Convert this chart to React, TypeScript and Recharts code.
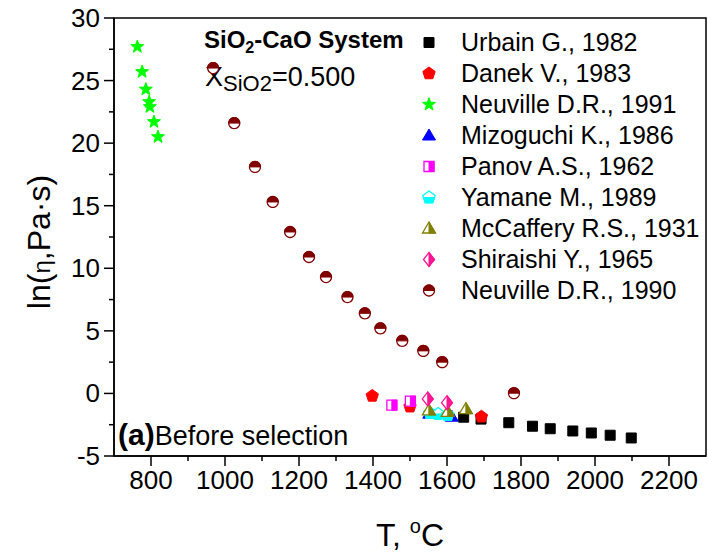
import React from "react";
import { ScatterChart, Scatter, XAxis, YAxis, ReferenceArea, Legend, Customized, Label } from "recharts";

const FONT = "'Liberation Sans', Arial, Helvetica, sans-serif";

// axis ticks (minor + major); labels only on majors
const X_TICKS = [800, 900, 1000, 1100, 1200, 1300, 1400, 1500, 1600, 1700, 1800, 1900, 2000, 2100, 2200];
const X_LABELS = [800, 1000, 1200, 1400, 1600, 1800, 2000, 2200];
const Y_TICKS = [-5, -2.5, 0, 2.5, 5, 7.5, 10, 12.5, 15, 17.5, 20, 22.5, 25, 27.5, 30];
const Y_LABELS = [-5, 0, 5, 10, 15, 20, 25, 30];

// T (°C) / ln(eta)
const urbainT = [1645, 1692, 1767, 1831, 1879, 1940, 1990, 2041, 2098];
const urbainLn = [-1.9, -2.05, -2.34, -2.62, -2.82, -3.0, -3.16, -3.34, -3.56];
const danekT = [1398, 1500, 1693];
const danekLn = [-0.2, -1.06, -1.86];
const neuville91T = [763, 776, 786, 795, 797, 808, 819];
const neuville91Ln = [27.7, 25.7, 24.3, 23.3, 22.9, 21.7, 20.5];
const mizoguchiT = [1552, 1613];
const mizoguchiLn = [-1.62, -1.86];
const panovT = [1451, 1501];
const panovLn = [-0.94, -0.62];
const yamaneT = [1554, 1576, 1602];
const yamaneLn = [-1.58, -1.64, -1.72];
const mccafferyT = [1551, 1602, 1651];
const mccafferyLn = [-1.36, -1.48, -1.26];
const shiraishiT = [1548, 1600];
const shiraishiLn = [-0.44, -0.74];
const neuville90T = [968, 1025, 1081, 1129, 1176, 1227, 1273, 1331, 1378, 1420, 1479, 1536, 1587, 1781];
const neuville90Ln = [26.0, 21.6, 18.1, 15.3, 12.9, 10.9, 9.3, 7.7, 6.4, 5.2, 4.2, 3.4, 2.5, 0.02];

const pts = (t: number[], v: number[]) => t.map((x, i) => ({ t: x, v: v[i] }));

type Shape = "square" | "pentagon" | "star" | "triangle" | "diamond" | "circle";
type Fill = "full" | "right" | "bottom" | "top";

const SERIES: { name: string; data: { t: number; v: number }[]; color: string; shape: Shape; fill: Fill }[] = [
  { name: "Urbain G., 1982", data: pts(urbainT, urbainLn), color: "#000000", shape: "square", fill: "full" },
  { name: "Danek V., 1983", data: pts(danekT, danekLn), color: "#FF0000", shape: "pentagon", fill: "full" },
  { name: "Neuville D.R., 1991", data: pts(neuville91T, neuville91Ln), color: "#00FF00", shape: "star", fill: "full" },
  { name: "Mizoguchi K., 1986", data: pts(mizoguchiT, mizoguchiLn), color: "#0000FF", shape: "triangle", fill: "full" },
  { name: "Panov A.S., 1962", data: pts(panovT, panovLn), color: "#FF00FF", shape: "square", fill: "right" },
  { name: "Yamane M., 1989", data: pts(yamaneT, yamaneLn), color: "#00FFFF", shape: "pentagon", fill: "bottom" },
  { name: "McCaffery R.S., 1931", data: pts(mccafferyT, mccafferyLn), color: "#808000", shape: "triangle", fill: "right" },
  { name: "Shiraishi Y., 1965", data: pts(shiraishiT, shiraishiLn), color: "#FF1493", shape: "diamond", fill: "right" },
  { name: "Neuville D.R., 1990", data: pts(neuville90T, neuville90Ln), color: "#800000", shape: "circle", fill: "top" },
];

type P = [number, number];

function outline(shape: Shape, cx: number, cy: number): P[] {
  const poly = (n: number, r: number, rot = -90): P[] =>
    Array.from({ length: n }, (_, k) => {
      const a = ((rot + (360 / n) * k) * Math.PI) / 180;
      return [cx + r * Math.cos(a), cy + r * Math.sin(a)] as P;
    });
  switch (shape) {
    case "square":
      return [[cx - 5, cy - 5], [cx + 5, cy - 5], [cx + 5, cy + 5], [cx - 5, cy + 5]];
    case "pentagon":
      return poly(5, 6.5);
    case "star":
      return Array.from({ length: 10 }, (_, k) => {
        const r = k % 2 === 0 ? 6.8 : 2.8;
        const a = ((-90 + 36 * k) * Math.PI) / 180;
        return [cx + r * Math.cos(a), cy + r * Math.sin(a)] as P;
      });
    case "triangle":
      return [[cx, cy - 6.5], [cx + 6.5, cy + 4.5], [cx - 6.5, cy + 4.5]];
    case "diamond":
      return [[cx, cy - 7], [cx + 5.5, cy], [cx, cy + 7], [cx - 5.5, cy]];
    default:
      return poly(28, 5.5);
  }
}

// keep the part of a polygon where f >= 0
function clip(poly: P[], f: (p: P) => number): P[] {
  const out: P[] = [];
  for (let i = 0; i < poly.length; i++) {
    const a = poly[i];
    const b = poly[(i + 1) % poly.length];
    const fa = f(a);
    const fb = f(b);
    if (fa >= 0) out.push(a);
    if ((fa >= 0) !== (fb >= 0)) {
      const s = fa / (fa - fb);
      out.push([a[0] + s * (b[0] - a[0]), a[1] + s * (b[1] - a[1])]);
    }
  }
  return out;
}

const str = (p: P[]) => p.map((q) => `${q[0].toFixed(2)},${q[1].toFixed(2)}`).join(" ");

function Marker({ cx, cy, shape, fill, color }: { cx: number; cy: number; shape: Shape; fill: Fill; color: string }) {
  if (cx == null || cy == null) return null;
  const o = outline(shape, cx, cy);
  if (fill === "full") return <polygon points={str(o)} fill={color} stroke={color} strokeWidth={1} />;
  const f =
    fill === "right" ? (p: P) => p[0] - cx : fill === "bottom" ? (p: P) => p[1] - cy : (p: P) => cy - p[1];
  return (
    <g>
      <polygon points={str(o)} fill="#fff" stroke={color} strokeWidth={1.3} />
      <polygon points={str(clip(o, f))} fill={color} stroke={color} strokeWidth={1} />
    </g>
  );
}

const XTick = (props: any) => {
  const { x, y, payload } = props;
  const major = X_LABELS.includes(payload.value);
  return (
    <g>
      <line x1={x} x2={x} y1={y} y2={y + (major ? 10 : 5)} stroke="#000" strokeWidth={1.5} />
      {major && (
        <text x={x} y={y + 33} textAnchor="middle" fontSize={26} fontFamily={FONT} fill="#000">
          {payload.value}
        </text>
      )}
    </g>
  );
};

const YTick = (props: any) => {
  const { x, y, payload } = props;
  const major = Y_LABELS.includes(payload.value);
  return (
    <g>
      <line x1={x} x2={x - (major ? 10 : 5)} y1={y} y2={y} stroke="#000" strokeWidth={1.5} />
      {major && (
        <text x={x - 14} y={y + 9} textAnchor="end" fontSize={26} fontFamily={FONT} fill="#000">
          {payload.value}
        </text>
      )}
    </g>
  );
};

const Notes = () => (
  <g fontFamily={FONT} fill="#000">
    <text x={204} y={48} fontSize={24} fontWeight="bold">
      SiO<tspan fontSize={16} dy={5}>2</tspan>
      <tspan dy={-5}>-CaO System</tspan>
    </text>
    <text x={205} y={86} fontSize={27}>
      X<tspan fontSize={22} dy={5}>SiO2</tspan>
      <tspan dy={-5}>=0.500</tspan>
    </text>
    <text x={118} y={445} fontSize={30} fontWeight="bold">
      (a)<tspan fontSize={27} fontWeight="normal">Before selection</tspan>
    </text>
  </g>
);

export default function App() {
  return (
    <div style={{ position: "absolute", left: 0, top: 0, width: 708, height: 555, background: "#fff" }}>
      <ScatterChart width={708} height={555} margin={{ top: 18, right: 2, bottom: 39, left: 14 }}>
        <XAxis
          dataKey="t"
          type="number"
          domain={[700, 2300]}
          ticks={X_TICKS}
          interval={0}
          tickSize={0}
          tickMargin={0}
          tickLine={false}
          tick={<XTick />}
          height={60}
          axisLine={{ stroke: "#000", strokeWidth: 1.5 }}
        >
          <Label
            content={() => (
              <text x={410} y={546} textAnchor="middle" fontSize={32} fontFamily={FONT} fill="#000">
                T, <tspan fontSize={20} dy={-13}>o</tspan>
                <tspan dy={13}>C</tspan>
              </text>
            )}
          />
        </XAxis>
        <YAxis
          dataKey="v"
          type="number"
          domain={[-5, 30]}
          ticks={Y_TICKS}
          interval={0}
          tickSize={0}
          tickMargin={0}
          tickLine={false}
          tick={<YTick />}
          width={100}
          axisLine={{ stroke: "#000", strokeWidth: 1.5 }}
        >
          <Label
            content={() => (
              <text
                x={50}
                y={242}
                transform="rotate(-90 50 242)"
                textAnchor="middle"
                fontSize={32}
                fontFamily={FONT}
                fill="#000"
              >
                ln(<tspan fontSize={24}>η</tspan>,Pa·s)
              </text>
            )}
          />
        </YAxis>
        <ReferenceArea x1={700} x2={2300} y1={-5} y2={30} fill="none" stroke="#000" strokeWidth={1.5} ifOverflow="visible" />
        {SERIES.map((s) => (
          <Scatter
            key={s.name}
            name={s.name}
            data={s.data}
            isAnimationActive={false}
            shape={(p: any) => <Marker cx={p.cx} cy={p.cy} shape={s.shape} fill={s.fill} color={s.color} />}
          />
        ))}
        <Customized component={<Notes />} />
        <Legend
          layout="horizontal"
          verticalAlign="middle"
          align="center"
          wrapperStyle={{ position: "absolute", left: 414, top: 27, width: 294, height: 285 }}
          content={() => (
            <div style={{ fontFamily: FONT, fontSize: 25, color: "#000" }}>
              {SERIES.map((s) => (
                <div key={s.name} style={{ display: "flex", alignItems: "center", height: 31 }}>
                  <svg width={30} height={31} style={{ flex: "none" }}>
                    <Marker cx={15} cy={15.5} shape={s.shape} fill={s.fill} color={s.color} />
                  </svg>
                  <span style={{ marginLeft: 17, whiteSpace: "nowrap", lineHeight: "31px" }}>{s.name}</span>
                </div>
              ))}
            </div>
          )}
        />
      </ScatterChart>
    </div>
  );
}
